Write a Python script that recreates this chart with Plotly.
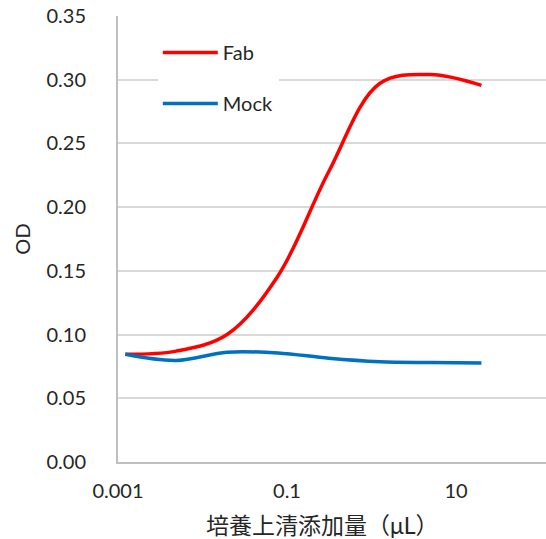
import plotly.graph_objects as go

# 4-fold dilution series of culture supernatant (µL)
volumes = [20 / 4**k for k in range(7, -1, -1)]
fab = [0.0845, 0.087, 0.100, 0.146, 0.228, 0.297, 0.304, 0.2955]
mock = [0.0845, 0.0797, 0.0862, 0.0856, 0.0814, 0.0787, 0.078, 0.0776]
series_names = ["Fab", "Mock"]
x_tickvals = [0.001, 0.1, 10]
x_ticktext = ["0.001", "0.1", "10"]
y_tickvals = [0, 0.05, 0.1, 0.15, 0.2, 0.25, 0.3, 0.35]

FONT = "Lato, 'Noto Sans CJK JP', sans-serif"

fig = go.Figure()
fig.add_trace(go.Scatter(x=volumes, y=fab, mode="lines", name=series_names[0],
                         legendgroup="a",
                         line=dict(color="#FF0000", width=3.5, shape="spline", smoothing=1)))
fig.add_trace(go.Scatter(x=volumes, y=mock, mode="lines", name=series_names[1],
                         legendgroup="b",
                         line=dict(color="#0070C0", width=3.5, shape="spline", smoothing=1)))

fig.update_layout(
    width=546, height=539,
    margin=dict(l=118, r=0, t=16, b=77),
    paper_bgcolor="white", plot_bgcolor="white",
    font=dict(family=FONT, size=20, color="#262626"),
    showlegend=True,
    legend=dict(x=0.093, y=0.962, xanchor="left", yanchor="top",
                bgcolor="white", font=dict(size=20, color="#262626"),
                tracegroupgap=22, itemwidth=55, traceorder="grouped",
                borderwidth=0),
    xaxis=dict(type="log", range=[-3, 2.065], tickvals=x_tickvals, ticktext=x_ticktext,
               showgrid=False, showline=True, linecolor="#BFBFBF", linewidth=2,
               ticks="", zeroline=False, tickfont=dict(size=20),
               ticklabelstandoff=10, automargin=False),
    yaxis=dict(range=[0, 0.35], tickvals=y_tickvals, tickformat=".2f",
               showgrid=True, gridcolor="#D9D9D9", gridwidth=1.5,
               showline=True, linecolor="#BFBFBF", linewidth=2,
               ticks="", zeroline=False, tickfont=dict(size=20),
               ticklabelstandoff=26, ticklabeloverflow="allow", automargin=False,
               title=dict(text="OD", font=dict(size=20), standoff=10)),
    annotations=[dict(text="培養上清添加量（μL）", xref="paper", yref="paper",
                      x=(322 - 118) / 428, y=-0.141, xanchor="center", yanchor="middle",
                      showarrow=False, font=dict(size=23, color="#262626"))],
)

fig.write_html("out.html", config={"displayModeBar": False},
               post_script="document.body.style.margin='0';")
